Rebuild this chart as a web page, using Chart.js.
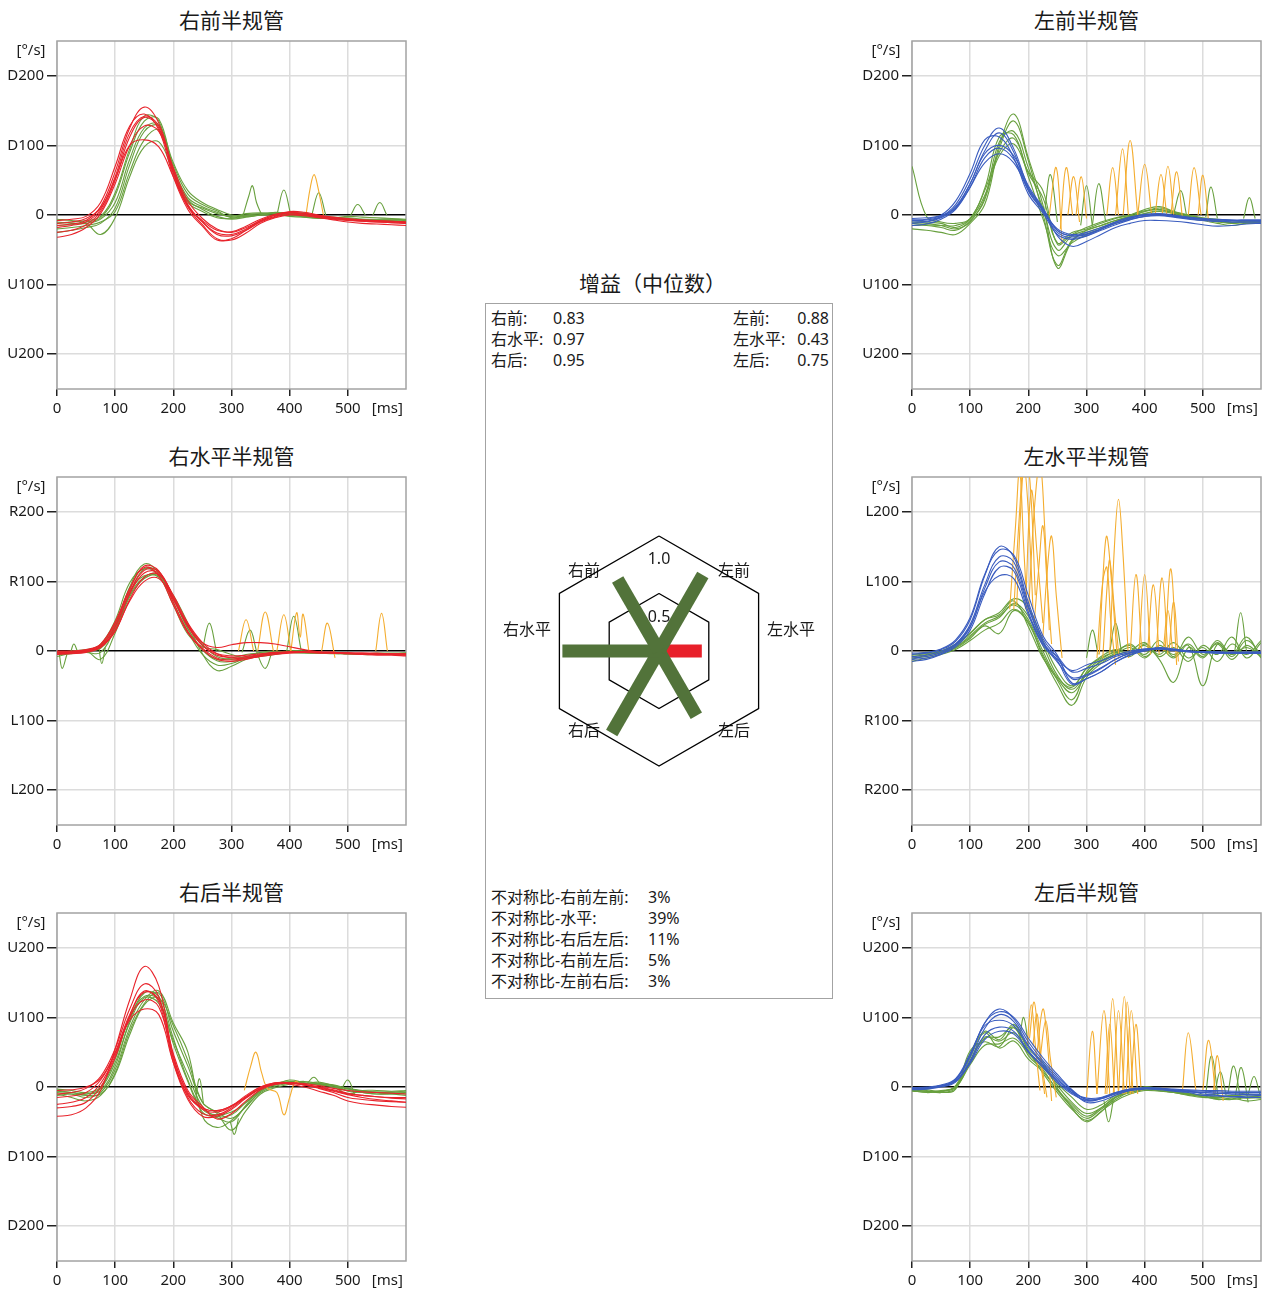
<!DOCTYPE html>
<html>
<head>
<meta charset="utf-8">
<script src="https://cdn.jsdelivr.net/npm/chart.js@4.4.1/dist/chart.umd.min.js"></script>
<style>
  body { margin: 0; background: #fff; width: 1266px; height: 1293px; position: relative; overflow: hidden;
         font-family: "Noto Sans", "Noto Sans CJK SC", sans-serif; color: #1a1a1a; }
  canvas { position: absolute; }
  .ttl { position: absolute; width: 349px; text-align: center; font-size: 21px; line-height: 28px; }
  .box { position: absolute; left: 485px; top: 303px; width: 348px; height: 696px; box-sizing: border-box;
         border: 1.5px solid #a3a3a3; }
  .t { position: absolute; font-size: 16px; line-height: 21px; white-space: nowrap; }
</style>
</head>
<body>

<script>
// time axis of every trace, ms
const T = [0, 25, 50, 75, 100, 125, 150, 175, 200, 225, 250, 275, 300, 325, 350, 375, 400, 425, 450, 475, 500, 525, 550, 575, 600];

// right anterior
const RA_HEAD = [
  [-15,-13,-8,12,62,125,155,132,65,15,-10,-28,-30,-22,-10,-3,1,0,-3,-6,-8,-9,-10,-11,-12],
  [-25,-22,-14,5,50,112,140,125,60,12,-14,-34,-36,-26,-12,-4,0,-1,-4,-7,-10,-12,-13,-14,-15],
  [-8,-6,-2,18,70,128,145,122,55,8,-16,-36,-34,-22,-9,-2,3,2,-1,-4,-6,-8,-9,-9,-10],
  [-32,-28,-18,2,45,100,128,120,68,20,-5,-20,-25,-18,-8,0,3,1,-2,-5,-7,-9,-10,-11,-12],
  [-18,-15,-10,8,55,118,142,128,62,14,-10,-26,-28,-20,-8,0,5,4,0,-3,-5,-7,-8,-9,-10],
  [-12,-10,-5,10,52,100,108,98,55,12,-8,-22,-24,-16,-6,1,4,2,-1,-4,-6,-8,-9,-10,-11]
];
const RA_EYE = [
  [-10,-12,-12,-6,18,80,125,130,68,25,12,4,-3,0,2,3,2,-2,-4,-5,-6,-7,-8,-8,-9],
  [-20,-18,-15,-10,5,62,108,122,72,30,15,6,-4,-2,0,2,0,-3,-5,-5,-7,-8,-8,-9,-10],
  [-6,-8,-12,-28,-4,55,98,105,62,22,8,-2,-6,-3,0,4,2,0,-4,-5,-4,-6,-7,-7,-8],
  [-15,-14,-10,-4,28,90,135,138,66,20,10,2,-2,2,3,2,-2,-3,-2,-4,-2,-3,-4,-5,-6],
  [-25,-22,-18,-12,10,72,120,128,75,35,18,8,0,-2,0,3,2,0,-2,-3,-5,-6,-6,-6,-7],
  [-12,-10,-8,-2,32,95,142,135,60,18,5,-4,-5,0,0,0,2,3,-3,-5,-6,-7,-8,-9,-10]
];
const RA_EYE_SPIKES = [
  [[320,0],[330,28],[336,42],[343,18],[352,0]],
  [[378,0],[390,36],[402,0]],
  [[438,0],[450,32],[462,0]],
  [[505,0],[517,15],[530,0]],
  [[543,0],[555,18],[567,0]]
];
const RA_SACC = [
  [[428,0],[436,42],[442,58],[448,42],[458,0]]
];

// right horizontal
const RH_HEAD = [
  [-3,-2,0,7,34,82,112,112,75,35,8,-6,-9,-8,-5,-3,-2,-2,-3,-3,-4,-4,-5,-5,-5],
  [-5,-4,-2,5,28,74,106,110,80,40,12,-4,-10,-10,-8,-5,-3,-2,-2,-3,-4,-5,-6,-6,-7],
  [0,0,2,10,42,90,122,115,70,28,4,-10,-13,-10,-6,-3,-1,-1,-2,-3,-3,-4,-4,-4,-4],
  [-2,-2,0,6,30,72,100,104,74,36,8,-4,-7,-6,-4,-2,-1,-1,-2,-2,-3,-3,-3,-4,-4],
  [-4,-3,-1,7,36,84,116,114,78,38,12,5,9,12,12,10,6,2,-1,-2,-3,-4,-5,-5,-6],
  [-1,-1,1,9,40,88,120,108,66,26,2,-12,-15,-12,-7,-4,-2,-1,-2,-2,-3,-3,-4,-4,-5]
];
const RH_EYE = [
  [-3,-2,0,5,30,82,118,114,76,32,2,-14,-15,-10,-5,-2,0,-2,-3,-3,-4,-5,-5,-4,-3],
  [-8,-3,-2,-2,35,92,125,112,70,28,-5,-20,-18,-10,-6,-3,0,0,-2,-3,-4,-4,-5,-5,-4],
  [-2,0,2,8,38,86,108,106,74,36,10,-8,-12,-8,-2,0,-2,-3,-3,-4,-4,-4,-3,-3,-3],
  [-5,-4,0,-12,26,78,104,108,80,40,-4,-28,-22,-12,-6,-3,0,0,-2,-3,-3,-5,-5,-5,-4],
  [-1,-1,1,10,44,98,118,108,66,24,6,2,-5,-10,-8,-5,-2,-2,-3,-3,-4,-4,-5,-4,-3],
  [-4,-3,0,4,32,80,106,110,76,32,2,-12,-10,-5,-3,-2,-1,-2,-3,-3,-4,-5,-5,-4,-4]
];
const RH_EYE_SPIKES = [
  [[250,2],[262,40],[274,0]],
  [[318,-2],[332,30],[345,-5],[358,-25],[370,0]],
  [[395,0],[407,50],[420,0]],
  [[4,-5],[9,-25],[17,-5]],
  [[24,0],[29,10],[35,0]],
  [[72,5],[77,-18],[83,5]]
];
const RH_SACC = [
  [[312,0],[325,45],[338,0]],
  [[345,0],[358,56],[372,0]],
  [[378,0],[390,52],[402,0]],
  [[402,0],[412,55],[418,20],[423,53],[433,0]],
  [[455,0],[465,40],[478,-10]],
  [[548,0],[558,54],[568,0]]
];

// right posterior
const RP_HEAD = [
  [-10,-8,-2,15,55,112,148,130,40,-15,-38,-40,-30,-15,-2,5,6,4,0,-5,-10,-12,-14,-15,-15],
  [-25,-22,-15,5,45,102,138,122,35,-18,-42,-42,-32,-16,-2,6,6,3,-2,-8,-15,-18,-20,-21,-22],
  [-42,-40,-30,-5,55,125,173,145,45,-10,-32,-36,-28,-14,0,6,4,0,-6,-12,-20,-24,-26,-28,-29],
  [-15,-13,-8,10,48,96,112,104,35,-12,-30,-34,-27,-14,-2,4,5,3,0,-4,-9,-12,-14,-16,-17],
  [-30,-28,-22,0,42,100,125,115,42,-8,-30,-34,-27,-12,0,5,6,3,-1,-6,-11,-15,-18,-20,-22],
  [-5,-4,0,12,50,104,136,126,48,-5,-28,-46,-38,-20,-4,4,6,5,2,-2,-5,-7,-8,-9,-10]
];
const RP_EYE = [
  [-5,-8,-10,-5,30,95,135,130,70,10,-32,-40,-36,-22,-4,5,8,6,4,0,-5,-8,-10,-10,-8],
  [-10,-15,-20,-12,20,80,120,135,80,30,-22,-36,-45,-28,-6,3,6,5,7,2,-3,-6,-8,-8,-10],
  [-3,-5,-8,0,40,100,130,125,62,8,-36,-44,-50,-26,-4,3,10,6,3,0,-10,-5,-5,-6,-5],
  [-8,-10,-15,-8,25,85,125,138,92,50,-42,-58,-48,-28,-8,1,5,5,5,3,-2,-5,-8,-10,-12],
  [-12,-10,-12,-10,18,75,118,128,88,38,-22,-38,-62,-34,-10,-1,4,5,4,2,-2,-6,-7,-7,-6],
  [-6,-8,-10,-2,35,92,128,120,66,18,-28,-42,-40,-22,-6,4,6,8,5,2,-6,-8,-10,-9,-8]
];
const RP_EYE_SPIKES = [
  [[238,-20],[245,12],[252,-25]],
  [[430,5],[442,14],[455,0]],
  [[488,-5],[500,10],[512,-12]],
  [[298,-50],[305,-68],[312,-45]]
];
const RP_SACC = [
  [[322,-5],[333,30],[342,50],[352,20],[362,-2],[378,-8],[390,-40],[400,-15],[410,8],[418,3]]
];

// left anterior
const LA_HEAD = [
  [-8,-7,-2,15,52,100,125,95,40,10,-22,-30,-28,-20,-12,-5,0,1,-1,-4,-6,-7,-8,-8,-8],
  [-12,-10,-4,10,45,92,118,90,35,6,-25,-33,-30,-22,-14,-7,-2,0,-2,-5,-8,-9,-10,-10,-10],
  [-5,-4,0,20,60,108,112,82,30,3,-28,-35,-30,-20,-10,-3,1,2,0,-3,-5,-6,-7,-7,-7],
  [-15,-13,-6,8,40,82,96,80,38,8,-22,-30,-27,-20,-12,-6,-2,-1,-3,-6,-8,-9,-10,-10,-10],
  [-10,-9,-3,12,45,88,100,85,42,10,-30,-45,-38,-28,-18,-12,-8,-8,-9,-11,-14,-16,-15,-13,-12],
  [-7,-6,-1,10,40,75,88,75,36,6,-20,-28,-25,-18,-10,-4,0,0,-2,-4,-6,-7,-8,-8,-9]
];
const LA_EYE = [
  [-10,-12,-15,-20,-10,25,105,120,68,10,-50,-30,-22,-15,-8,-2,5,8,3,-2,-5,-8,-10,-12,-12],
  [-20,-22,-25,-28,-12,15,95,135,78,2,-72,-36,-25,-18,-10,-3,5,10,5,0,-5,-8,-12,-10,-8],
  [70,-2,-10,-12,-5,38,112,115,60,25,-40,-25,-20,-12,-5,0,8,12,5,-3,-6,-10,-12,-10,-10],
  [-15,-15,-18,-22,-8,22,100,145,82,15,-76,-38,-22,-15,-8,-2,2,5,2,-5,-8,-12,-15,-12,-12],
  [-12,-14,-15,-15,-5,35,90,110,55,-5,-58,-40,-28,-20,-12,-5,2,6,3,-2,-6,-9,-11,-9,-9],
  [-8,-10,-12,-18,-6,28,85,102,62,35,-42,-28,-18,-10,-4,0,6,8,4,0,-4,-6,-8,-10,-11]
];
const LA_EYE_SPIKES = [
  [[228,5],[238,58],[250,-10]],
  [[290,-15],[300,42],[310,-15]],
  [[310,-15],[321,45],[333,-10]],
  [[450,2],[462,35],[472,0]],
  [[505,-3],[514,40],[525,-5]],
  [[570,-5],[580,25],[590,-5]]
];
const LA_SACC = [
  [[236,0],[248,68],[258,-40]],
  [[255,-20],[265,68],[276,0]],
  [[268,0],[278,55],[288,-10]],
  [[282,0],[291,55],[300,-5]],
  [[335,0],[345,68],[355,0]],
  [[350,0],[362,95],[372,0]],
  [[363,0],[375,107],[388,0]],
  [[388,0],[400,73],[412,0]],
  [[418,0],[428,58],[438,0]],
  [[430,0],[440,70],[450,0]],
  [[445,0],[455,62],[465,-5]],
  [[475,0],[485,68],[497,0]],
  [[492,0],[500,57],[510,-10]]
];

// left horizontal
const LH_HEAD = [
  [-5,-3,2,14,45,108,150,135,70,18,-10,-40,-36,-25,-12,-3,2,4,2,0,-1,-2,-2,-2,-2],
  [-10,-8,-2,10,38,95,135,128,65,14,-14,-48,-40,-30,-16,-6,0,3,1,-1,-2,-2,-3,-3,-3],
  [-15,-12,-5,6,30,82,120,115,56,10,-8,-30,-25,-18,-8,-2,2,3,1,-1,-2,-3,-3,-3,-3],
  [-3,-2,3,16,48,110,145,138,80,22,-6,-46,-40,-30,-16,-5,1,5,3,0,-1,-1,-2,-2,-1],
  [-8,-6,0,10,35,85,108,104,52,8,-12,-28,-20,-14,-6,0,3,4,2,0,-1,-2,-2,-2,-2],
  [-12,-10,-4,8,34,90,128,120,62,12,-16,-38,-34,-24,-12,-3,1,3,1,-1,-2,-3,-3,-3,-3]
];
const LH_EYE = [
  [-10,-8,-3,5,20,38,48,68,50,8,-35,-55,-32,-15,-5,5,-10,8,-5,10,-8,15,-5,20,-10],
  [-15,-10,-5,2,15,30,40,60,42,-5,-42,-70,-30,-12,-2,-8,10,-5,12,-10,5,-15,10,-5,15],
  [-5,-2,0,8,25,45,55,75,62,15,-28,-50,-25,-10,0,8,-5,15,-8,20,-5,10,-12,8,-8],
  [-12,-6,-2,4,18,36,25,58,40,-8,-48,-78,-38,-18,-5,0,12,-8,5,-15,8,-5,20,-10,12],
  [-8,-5,-1,6,22,40,50,66,45,0,-38,-52,-25,-8,2,-5,8,-12,-45,5,-10,12,-8,15,-5],
  [-6,-4,0,10,26,45,52,72,35,-10,-40,-60,-34,-14,-3,10,-8,5,-10,8,-50,10,-5,5,-8]
];
const LH_EYE_SPIKES = [
  [[555,0],[565,55],[575,0]],
  [[300,-10],[310,30],[320,-5]],
  [[340,0],[350,40],[360,0]]
];
const LH_SACC = [
  [[168,60],[178,180],[185,260],[192,150],[198,60]],
  [[175,60],[185,200],[192,270],[200,200],[208,60]],
  [[180,65],[190,250],[196,280],[204,230],[212,80]],
  [[195,60],[205,230],[215,140],[225,40]],
  [[200,50],[210,200],[220,270],[228,180],[236,30]],
  [[210,40],[218,120],[225,180],[232,100],[240,10]],
  [[225,20],[232,110],[240,165],[248,80],[258,-10]],
  [[318,-10],[328,100],[335,120],[342,40],[350,-20]],
  [[322,-5],[330,130],[335,165],[342,110],[352,0]],
  [[328,-10],[336,100],[340,130],[348,60],[356,-10]],
  [[340,-5],[348,150],[355,218],[362,150],[372,-10]],
  [[375,-5],[385,110],[395,0]],
  [[390,-5],[400,110],[410,-5]],
  [[405,0],[415,95],[425,-5]],
  [[420,0],[430,105],[440,-5]],
  [[435,0],[445,118],[455,-20]],
  [[432,0],[440,58],[448,0]],
  [[442,0],[450,70],[458,-15]]
];

// left posterior
const LP_HEAD = [
  [-2,-1,2,10,45,92,112,98,65,38,15,-5,-18,-16,-8,-4,-2,-3,-5,-6,-8,-9,-10,-10,-10],
  [-3,-2,1,8,38,84,104,94,60,35,12,-8,-20,-17,-10,-5,-3,-4,-6,-8,-12,-13,-14,-13,-12],
  [-1,0,3,12,48,88,96,88,58,32,10,-6,-22,-20,-12,-5,-2,-2,-4,-5,-6,-7,-8,-8,-8],
  [-4,-3,0,7,35,75,86,80,52,30,8,-8,-16,-15,-8,-3,-1,-2,-4,-6,-10,-12,-14,-15,-15],
  [-2,-2,1,9,34,68,80,76,50,28,6,-10,-19,-16,-9,-4,-2,-3,-5,-7,-8,-9,-10,-11,-11],
  [-3,-1,2,11,44,92,108,100,70,42,18,-4,-18,-17,-9,-3,-1,-2,-3,-4,-5,-5,-6,-6,-6]
];
const LP_EYE = [
  [-5,-8,-6,0,38,72,66,78,50,30,2,-22,-38,-30,-15,-8,-3,-5,-8,-12,-15,-15,-14,-16,-15],
  [-3,-5,-8,-3,52,65,58,85,45,25,-5,-28,-45,-32,-18,-6,0,-2,-6,-10,-14,-16,-12,-15,-12],
  [-4,-6,-7,2,48,80,68,90,55,35,-2,-30,-50,-35,-20,-10,-5,-6,-8,-10,-12,-18,-16,-20,-18],
  [-6,-7,-5,0,32,60,62,70,48,28,5,-15,-32,-26,-12,-5,-2,-4,-7,-10,-12,-10,-8,-10,-12],
  [-2,-4,-6,1,42,78,56,66,40,22,-4,-25,-42,-30,-14,-8,-4,-5,-8,-11,-14,-17,-18,-15,-16],
  [-5,-6,-8,-2,36,70,72,86,52,20,-8,-32,-48,-36,-15,-5,0,-3,-6,-9,-12,-14,-12,-13,-14]
];
const LP_EYE_SPIKES = [
  [[505,-10],[515,45],[526,-12]],
  [[520,-12],[530,22],[540,-12]],
  [[543,-10],[553,30],[565,-18]],
  [[556,-12],[566,28],[578,-22]],
  [[578,-10],[588,15],[598,-10]],
  [[185,70],[192,100],[200,60]],
  [[330,-20],[338,-50],[346,-20]]
];
const LP_SACC = [
  [[198,60],[205,118],[212,60],[220,-5]],
  [[202,70],[210,122],[218,60],[228,-10]],
  [[208,60],[215,105],[222,40],[232,-15]],
  [[215,50],[225,112],[232,70],[240,-20]],
  [[220,40],[230,95],[238,40],[248,-15]],
  [[300,-15],[310,80],[318,-10]],
  [[318,-10],[330,110],[340,-10]],
  [[332,-10],[340,90],[348,-10]],
  [[335,-10],[345,127],[355,-10]],
  [[346,-10],[355,110],[365,-10]],
  [[355,-10],[365,130],[375,-10]],
  [[362,-10],[370,122],[380,-10]],
  [[368,-10],[377,110],[388,-10]],
  [[376,-10],[385,90],[394,-5]],
  [[465,-5],[475,78],[488,-5]],
  [[500,-5],[510,67],[522,-10]],
  [[518,-10],[525,45],[535,-20]]
];

// gains and asymmetry
const GAIN_LABELS = ["右前", "右水平", "右后", "左前", "左水平", "左后"];
const GAINS = [0.83, 0.97, 0.95, 0.88, 0.43, 0.75];
const GAIN_ANGLES = [120, 180, 240, 60, 0, 300];
const RING_VALUES = [0.5, 1.0];
const ASYM_LABELS = ["不对称比-右前左前:", "不对称比-水平:", "不对称比-右后左后:", "不对称比-右前左后:", "不对称比-左前右后:"];
const ASYM_VALUES = [3, 39, 11, 5, 3];

const FONT = "'Noto Sans', 'Noto Sans CJK SC', sans-serif";
const RED = "#e8232b", BLUE = "#3a5cbf", GREEN = "#68a03e", ORANGE = "#f4ad2f";

const PANELS = [
  { title: "右前半规管", pos: "D", neg: "U", head: RA_HEAD, hc: RED, eye: RA_EYE, spikes: RA_EYE_SPIKES, sacc: RA_SACC, col: 0, row: 0 },
  { title: "右水平半规管", pos: "R", neg: "L", head: RH_HEAD, hc: RED, eye: RH_EYE, spikes: RH_EYE_SPIKES, sacc: RH_SACC, col: 0, row: 1 },
  { title: "右后半规管", pos: "U", neg: "D", head: RP_HEAD, hc: RED, eye: RP_EYE, spikes: RP_EYE_SPIKES, sacc: RP_SACC, col: 0, row: 2 },
  { title: "左前半规管", pos: "D", neg: "U", head: LA_HEAD, hc: BLUE, eye: LA_EYE, spikes: LA_EYE_SPIKES, sacc: LA_SACC, col: 1, row: 0 },
  { title: "左水平半规管", pos: "L", neg: "R", head: LH_HEAD, hc: BLUE, eye: LH_EYE, spikes: LH_EYE_SPIKES, sacc: LH_SACC, col: 1, row: 1 },
  { title: "左后半规管", pos: "U", neg: "D", head: LP_HEAD, hc: BLUE, eye: LP_EYE, spikes: LP_EYE_SPIKES, sacc: LP_SACC, col: 1, row: 2 }
];

Chart.defaults.font.family = FONT;
Chart.defaults.color = "#1a1a1a";

// frame and unit labels
const framePlugin = {
  id: "frame",
  beforeDatasetsDraw(chart) {
    const a = chart.chartArea, c = chart.ctx;
    c.save();
    c.strokeStyle = "#a3a3a3";
    c.lineWidth = 1.5;
    c.strokeRect(a.left, a.top, a.right - a.left, a.bottom - a.top);
    c.restore();
  },
  afterDraw(chart) {
    const a = chart.chartArea, c = chart.ctx;
    c.save();
    c.fillStyle = "#1a1a1a";
    c.font = "15px " + FONT;
    c.textAlign = "center";
    c.textBaseline = "middle";
    c.fillText("[°/s]", a.left - 26, a.top + 10);
    c.fillText("[ms]", chart.scales.x.getPixelForValue(568), a.bottom + 20);
    c.restore();
  }
};

const asLine = (ys) => ys.map((y, i) => ({ x: T[i], y: y }));
const asPts = (pts) => pts.map((p) => ({ x: p[0], y: p[1] }));

PANELS.forEach((p) => {
  const top = p.row * 436;
  const ttl = document.createElement("div");
  ttl.className = "ttl";
  ttl.textContent = p.title;
  ttl.style.left = (p.col ? 912 : 57) + "px";
  ttl.style.top = (top + 6) + "px";
  document.body.appendChild(ttl);

  const cv = document.createElement("canvas");
  cv.width = p.col ? 411 : 420;
  cv.height = 419;
  cv.style.left = (p.col ? 855 : 0) + "px";
  cv.style.top = top + "px";
  document.body.appendChild(cv);

  const sets = [];
  p.head.forEach((ys) => sets.push({ data: asLine(ys), borderColor: p.hc }));
  p.sacc.forEach((s) => sets.push({ data: asPts(s), borderColor: ORANGE }));
  p.eye.forEach((ys) => sets.push({ data: asLine(ys), borderColor: GREEN }));
  p.spikes.forEach((s) => sets.push({ data: asPts(s), borderColor: GREEN }));

  new Chart(cv, {
    type: "line",
    data: { datasets: sets },
    options: {
      responsive: false,
      animation: false,
      layout: { padding: { top: 41, right: p.col ? 5 : 14, left: 0, bottom: 0 } },
      elements: { point: { radius: 0 }, line: { borderWidth: 1.1, tension: 0.4, fill: false } },
      plugins: { legend: { display: false }, tooltip: { enabled: false } },
      scales: {
        x: {
          type: "linear", min: 0, max: 600,
          afterBuildTicks: (s) => { s.ticks = [0, 100, 200, 300, 400, 500].map((v) => ({ value: v })); },
          afterFit: (s) => { s.height = 30; },
          grid: { color: "#dcdcdc", lineWidth: 1.5, tickColor: "#222", tickLength: 7, tickWidth: 1.5 },
          border: { display: false },
          ticks: { font: { size: 15 }, padding: 4, maxRotation: 0 }
        },
        y: {
          min: -250, max: 250,
          afterBuildTicks: (s) => { s.ticks = [-200, -100, 0, 100, 200].map((v) => ({ value: v })); },
          afterFit: (s) => { s.width = 57; },
          grid: {
            color: (c) => (c.tick && c.tick.value === 0 ? "#000" : "#dcdcdc"),
            lineWidth: 1.5, tickColor: "#222", tickLength: 10, tickWidth: 1.5
          },
          border: { display: false },
          ticks: {
            font: { size: 15 }, padding: 3,
            callback: (v) => (v === 0 ? "0" : (v > 0 ? p.pos + v : p.neg + (-v)))
          }
        }
      }
    },
    plugins: [framePlugin]
  });
});

// centre panel texts
function addText(txt, left, top, cls, extra) {
  const d = document.createElement("div");
  d.className = cls || "t";
  d.textContent = txt;
  d.style.left = left + "px";
  d.style.top = top + "px";
  if (extra) Object.assign(d.style, extra);
  document.body.appendChild(d);
  return d;
}
addText("增益（中位数）", 579, 268, "t", { fontSize: "21px", lineHeight: "30px" });
const box = document.createElement("div");
box.className = "box";
document.body.appendChild(box);

GAIN_LABELS.forEach((lab, i) => {
  const right = i >= 3;
  const row = i % 3;
  const y = 307.5 + row * 21;
  if (!right) {
    addText(lab + ":", 491, y);
    addText(GAINS[i].toFixed(2), 553, y);
  } else {
    addText(lab + ":", 733, y);
    addText(GAINS[i].toFixed(2), 729, y, "t", { width: "100px", textAlign: "right" });
  }
});
ASYM_LABELS.forEach((lab, i) => {
  const y = 886.5 + i * 21;
  addText(lab, 491, y);
  addText(ASYM_VALUES[i] + "%", 648, y);
});

// hexagon gain diagram
const UNIT = 99.6;
const hex = document.createElement("canvas");
hex.width = 348;
hex.height = 440;
hex.style.left = "485px";
hex.style.top = "431px";
document.body.appendChild(hex);

const rad = (d) => d * Math.PI / 180;
const hexSets = [];
GAIN_LABELS.forEach((lab, i) => {
  const a = rad(GAIN_ANGLES[i]);
  const low = GAINS[i] < 0.7;
  hexSets.push({
    data: [{ x: 0, y: 0 }, { x: GAINS[i] * Math.cos(a), y: GAINS[i] * Math.sin(a) }],
    showLine: true, borderColor: low ? "#e8202a" : "#52733a", borderWidth: 13,
    borderCapStyle: "butt", order: low ? 1 : 0
  });
});
RING_VALUES.forEach((v) => {
  const r = v / Math.cos(rad(30));
  const pts = [90, 150, 210, 270, 330, 30, 90].map((d) => ({ x: r * Math.cos(rad(d)), y: r * Math.sin(rad(d)) }));
  hexSets.push({ data: pts, showLine: true, borderColor: "#000", borderWidth: 1.3, order: 2 });
});

const hexText = {
  id: "hexText",
  beforeDatasetsDraw(chart) {
    const c = chart.ctx, sx = chart.scales.x, sy = chart.scales.y;
    c.save();
    c.fillStyle = "#1a1a1a";
    c.font = "16px " + FONT;
    c.textAlign = "center";
    c.textBaseline = "middle";
    RING_VALUES.forEach((v) => {
      const r = v / Math.cos(rad(30));
      c.fillText(v.toFixed(1), sx.getPixelForValue(0), sy.getPixelForValue(r - 0.24));
    });
    GAIN_LABELS.forEach((lab, i) => {
      const a = rad(GAIN_ANGLES[i]);
      const cx = Math.cos(a), cy = Math.sin(a);
      let px, py;
      if (Math.abs(cx) > 0.9) { px = Math.sign(cx) * 1.325; py = 0.21; }
      else { px = Math.sign(cx) * 0.753; py = Math.sign(cy) * 0.803; }
      c.fillText(lab, sx.getPixelForValue(px), sy.getPixelForValue(py));
    });
    c.restore();
  }
};

new Chart(hex, {
  type: "scatter",
  data: { datasets: hexSets },
  options: {
    responsive: false,
    animation: false,
    layout: { padding: 0 },
    elements: { point: { radius: 0 } },
    plugins: { legend: { display: false }, tooltip: { enabled: false } },
    scales: {
      x: { type: "linear", min: -174 / UNIT, max: 174 / UNIT, display: false },
      y: { type: "linear", min: -220 / UNIT, max: 220 / UNIT, display: false }
    }
  },
  plugins: [hexText]
});
</script>
</body>
</html>
